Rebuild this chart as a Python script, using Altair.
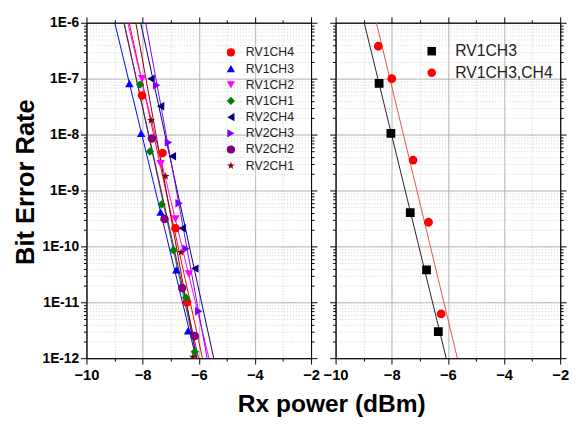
import altair as alt
import pandas as pd

# ---------------- data ----------------
left_series = ["RV1CH4", "RV1CH3", "RV1CH2", "RV1CH1", "RV2CH4", "RV2CH3", "RV2CH2", "RV2CH1"]
left_colors = ["#ff0000", "#0000ff", "#ff00ff", "#008000", "#000080", "#8000ff", "#800080", "#800000"]
STAR = "M0,-1L0.2245,-0.309L0.951,-0.309L0.363,0.118L0.588,0.809L0,0.382L-0.588,0.809L-0.363,0.118L-0.951,-0.309L-0.2245,-0.309Z"
left_shapes = ["circle", "triangle-up", "triangle-down", "diamond", "triangle-left", "triangle-right", "circle", STAR]

rv1ch4_x = [-8.02, -7.29, -6.83, -6.42]
rv1ch4_y = [5.0e-8, 4.7e-9, 2.1e-10, 1.0e-11]
rv1ch3_x = [-8.47, -8.05, -7.36, -6.80, -6.38]
rv1ch3_y = [8.2e-8, 1.05e-8, 4.1e-10, 3.8e-11, 3.1e-12]
rv1ch2_x = [-8.02, -7.36, -6.83, -6.35]
rv1ch2_y = [1.0e-7, 3.0e-9, 3.1e-10, 3.2e-11]
rv1ch1_x = [-8.09, -7.74, -7.32, -6.90, -6.45, -6.14]
rv1ch1_y = [7.9e-8, 5.0e-9, 5.6e-10, 8.5e-11, 1.2e-11, 1.3e-12]
rv2ch4_x = [-7.70, -7.36, -6.94, -6.59, -6.14]
rv2ch4_y = [1.0e-7, 3.2e-8, 4.1e-9, 2.1e-10, 4.0e-11]
rv2ch3_x = [-7.50, -7.08, -6.70, -6.45, -6.00]
rv2ch3_y = [7.6e-8, 7.2e-9, 5.9e-10, 9.1e-11, 6.9e-12]
rv2ch2_x = [-7.67, -7.22, -6.59, -6.14]
rv2ch2_y = [8.5e-9, 3.1e-10, 1.8e-11, 2.5e-12]
rv2ch1_x = [-7.70, -7.18, -6.63, -6.21]
rv2ch1_y = [1.8e-8, 1.8e-9, 7.8e-11, 1.05e-12]

right_series = ["RV1CH3", "RV1CH3,CH4"]
right_colors = ["#000000", "#ff0000"]
right_line_colors = ["#222222", "#e8504a"]
right_shapes = ["square", "circle"]
r_rv1ch3_x = [-8.45, -8.03, -7.34, -6.76, -6.34]
r_rv1ch3_y = [8.2e-8, 1.05e-8, 4.0e-10, 3.8e-11, 3.0e-12]
r_rv1ch34_x = [-8.48, -8.00, -7.24, -6.69, -6.24]
r_rv1ch34_y = [3.8e-7, 1.0e-7, 3.5e-9, 2.7e-10, 6.2e-12]

x_ticks = [-10, -9, -8, -7, -6, -5, -4, -3, -2]
y_ticks = [k * 10.0 ** e for e in range(-12, -6) for k in range(1, 10)] + [1e-6]

# ---------------- tables ----------------
def table(names, xs, ys):
    rows = []
    for n, xv, yv in zip(names, xs, ys):
        for a, b in zip(xv, yv):
            rows.append({"series": n, "x": a, "ber": b})
    return pd.DataFrame(rows)

left_df = table(left_series,
                [rv1ch4_x, rv1ch3_x, rv1ch2_x, rv1ch1_x, rv2ch4_x, rv2ch3_x, rv2ch2_x, rv2ch1_x],
                [rv1ch4_y, rv1ch3_y, rv1ch2_y, rv1ch1_y, rv2ch4_y, rv2ch3_y, rv2ch2_y, rv2ch1_y])
right_df = table(right_series, [r_rv1ch3_x, r_rv1ch34_x], [r_rv1ch3_y, r_rv1ch34_y])

FONT = "Arial"
MAJ_Y = "abs(log(datum.value)/LN10 - round(log(datum.value)/LN10)) < 0.001"
MAJ_X = "datum.value % 2 == 0"

xscale = alt.Scale(domain=[-10, -2], nice=False, zero=False)
yscale = alt.Scale(type="log", domain=[1e-12, 1e-6], nice=False)


def cond(test, a, b):
    return {"condition": {"test": test, "value": a}, "value": b}


def x_axis(orient="bottom", grid=True, labels=True):
    return alt.Axis(
        orient=orient, values=x_ticks, grid=grid, labels=labels, title=None,
        gridColor=cond(MAJ_X, "#a8a8a8", "#d0d0d0"),
        gridDash=cond(MAJ_X, [1, 0], [1, 2]),
        tickSize=cond(MAJ_X, 6, 3),
        tickColor="black", domainColor="black",
        labelExpr="datum.value % 2 == 0 ? datum.label : ''",
        labelFont=FONT, labelFontSize=15, labelFontWeight="bold", labelColor="black",
        labelPadding=4, format="d", labelFlush=False, labelOverlap=False,
    )


def y_axis(orient="left", grid=True, labels=True, title=None):
    kw = dict(
        orient=orient, values=y_ticks, grid=grid, labels=labels,
        gridColor=cond(MAJ_Y, "#a8a8a8", "#d0d0d0"),
        gridDash=cond(MAJ_Y, [1, 0], [1, 2]),
        tickSize=cond(MAJ_Y, 6, 3),
        tickColor="black", domainColor="black",
        labelExpr=MAJ_Y + " ? '1E' + round(log(datum.value)/LN10) : ''",
        labelFont=FONT, labelFontSize=14, labelFontWeight="bold", labelColor="black",
        labelPadding=2, labelFlush=False, labelOverlap=False,
        title=title,
    )
    if title:
        kw.update(titleFont=FONT, titleFontSize=26, titleFontWeight="bold", titleColor="black",
                  titlePadding=4, titleY=162)
    return alt.Axis(**kw)


def panel(df, names, colors, line_colors, shapes, w, ylabels, ytitle, legend, psize):
    # fitted lines: linear regression of log10(BER) on Rx power, per series
    lines = alt.Chart(df).transform_calculate(
        ly="log(datum.ber)/LN10"
    ).transform_regression(
        "x", "ly", groupby=["series"], extent=[-10, -2]
    ).transform_calculate(
        ber="pow(10, datum.ly)", fit="datum.series + ' fit'"
    ).mark_line(clip=True, strokeWidth=1).encode(
        x=alt.X("x:Q", scale=xscale, axis=None),
        y=alt.Y("ber:Q", scale=yscale, axis=None),
        stroke=alt.Stroke("fit:N", scale=alt.Scale(domain=[n + " fit" for n in names], range=line_colors),
                          legend=None),
    )
    pts = alt.Chart(df).mark_point(filled=True, size=psize, opacity=1, clip=True).encode(
        x=alt.X("x:Q", scale=xscale, axis=x_axis()),
        y=alt.Y("ber:Q", scale=yscale, axis=y_axis(labels=ylabels, title=ytitle)),
        color=alt.Color("series:N", scale=alt.Scale(domain=names, range=colors), legend=legend),
        shape=alt.Shape("series:N", scale=alt.Scale(domain=names, range=shapes), legend=legend),
    )
    mirror = alt.Chart(df).mark_point(opacity=0).encode(
        x=alt.X("x:Q", scale=xscale, axis=x_axis(orient="top", grid=False, labels=False)),
        y=alt.Y("ber:Q", scale=yscale, axis=y_axis(orient="right", grid=False, labels=False)),
    )
    return alt.layer(lines, pts, mirror).resolve_axis(x="independent", y="independent").properties(
        width=w, height=342
    )


left_legend = alt.Legend(title=None, orient="none", legendX=141, legendY=24, padding=0,
                         labelFont=FONT, labelFontSize=12.5, labelColor="#222222",
                         symbolSize=70, rowPadding=3.5, labelOffset=9)
right_legend = alt.Legend(title=None, orient="none", legendX=90, legendY=21, padding=0,
                          labelFont=FONT, labelFontSize=16, labelColor="#222222",
                          symbolSize=75, rowPadding=6, labelOffset=16)

left = panel(left_df, left_series, left_colors, left_colors, left_shapes, 229, True, "Bit Error Rate",
             left_legend, 75)
right = panel(right_df, right_series, right_colors, right_line_colors, right_shapes, 229, False, None,
              right_legend, 80)

chart = alt.hconcat(left, right, spacing=25, bounds="flush").resolve_scale(
    color="independent", shape="independent", stroke="independent"
).properties(
    title=alt.TitleParams("Rx power (dBm)", orient="bottom", anchor="middle", font=FONT,
                          fontSize=25, fontWeight="bold", color="black", dx=42, offset=9),
    padding={"left": 4, "top": 3, "right": 0, "bottom": 0},
).configure_view(stroke="black")

chart.save("out.html", embed_options={"renderer": "svg", "actions": False})
